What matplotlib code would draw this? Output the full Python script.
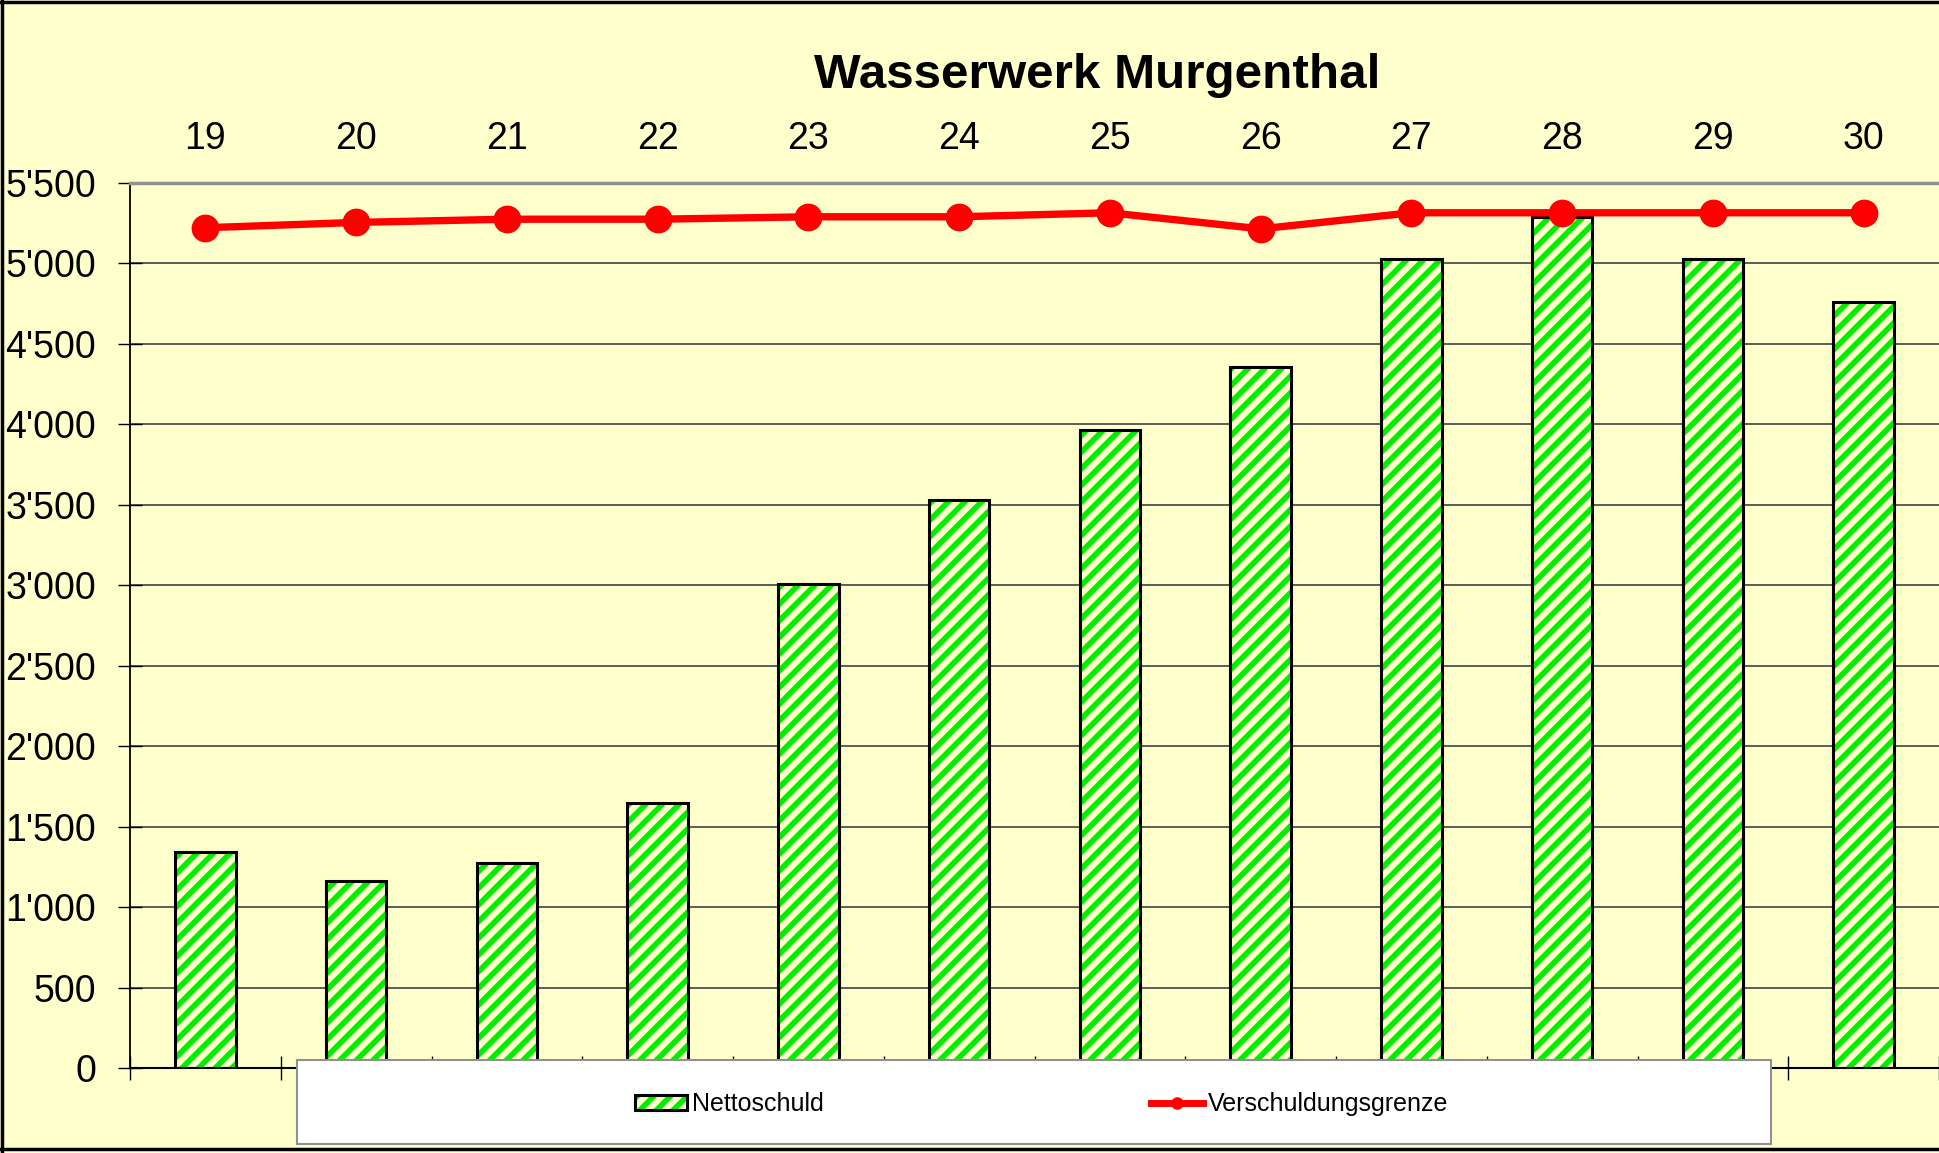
import matplotlib
matplotlib.use("Agg")
import matplotlib.pyplot as plt
from matplotlib.patches import Patch, Rectangle
from matplotlib.lines import Line2D
from matplotlib.legend_handler import HandlerTuple
from matplotlib.ticker import FuncFormatter

plt.rcParams['font.family'] = ['Liberation Sans', 'DejaVu Sans']
plt.rcParams['hatch.linewidth'] = 4.0

# ---- data ----
years = ["19", "20", "21", "22", "23", "24", "25", "26", "27", "28", "29", "30"]
nettoschuld = [1345, 1160, 1275, 1645, 3010, 3530, 3965, 4355, 5030, 5290, 5030, 4760]
verschuldungsgrenze = [5222, 5255, 5275, 5275, 5290, 5290, 5315, 5215, 5315, 5315, 5315, 5315]
yticks = [0, 500, 1000, 1500, 2000, 2500, 3000, 3500, 4000, 4500, 5000, 5500]
title = "Wasserwerk Murgenthal"
label_bar = "Nettoschuld"
label_line = "Verschuldungsgrenze"

BG = '#FFFFCC'
GREEN = '#00EE00'
RED = '#FF0000'

W, H = 1939, 1153
fig = plt.figure(figsize=(W / 100, H / 100), dpi=100, facecolor=BG)

left, right, bottom, top = 130 / W, 1.0, 1 - 1068 / H, 1 - 183 / H
ax = fig.add_axes([left, bottom, right - left, top - bottom])
ax.set_facecolor(BG)

x = list(range(len(years)))
ax.bar(x, nettoschuld, width=0.4, color=BG, edgecolor=GREEN, hatch='//',
       linewidth=0, zorder=2)
ax.bar(x, nettoschuld, width=0.4, fill=False, edgecolor='black',
       linewidth=2.2, zorder=3)
ax.plot(x, verschuldungsgrenze, color=RED, lw=5.3, marker='o', ms=19,
        zorder=4, solid_capstyle='round')

ax.set_xlim(-0.5, len(years) - 0.5)
ax.set_ylim(0, 5500)

ax.set_yticks(yticks)
ax.yaxis.set_major_formatter(FuncFormatter(lambda v, p: f"{int(v):,}".replace(',', "'")))
ax.tick_params(axis='y', direction='inout', length=17, width=1, pad=16,
               labelsize=27, colors='black')

ax.set_xticks(x)
ax.set_xticklabels(years)
ax.xaxis.tick_top()
ax.tick_params(axis='x', which='major', length=0, pad=19, labelsize=27)
ax.set_xticks([i + 0.5 for i in range(-1, len(years))], minor=True)
ax.tick_params(axis='x', which='minor', bottom=True, top=False,
               direction='inout', length=17, width=1, color='black')

ax.yaxis.grid(True, color='#505050', lw=1.3, zorder=1)
ax.set_axisbelow(True)
ax.spines['right'].set_visible(False)
ax.spines['top'].set_color('#909090')
ax.spines['top'].set_linewidth(2.5)
ax.spines['left'].set_linewidth(1.3)
ax.spines['bottom'].set_linewidth(1.5)

fig.text(1097 / W, 1 - 76 / H, title, ha='center', va='center',
         fontsize=35.6, fontweight='bold')

# legend box
bx0, bx1, by0, by1 = 297, 1771, 1060, 1144
rect = Rectangle((bx0 / W, 1 - by1 / H), (bx1 - bx0) / W, (by1 - by0) / H,
                 transform=fig.transFigure, facecolor='white',
                 edgecolor='#909090', lw=1.5, zorder=5)
fig.add_artist(rect)

h_bar = (Patch(facecolor=BG, edgecolor=GREEN, hatch='//', lw=0),
         Patch(facecolor='none', edgecolor='black', lw=2.2))
h_line = Line2D([], [], color=RED, lw=5, marker='o', ms=8)
leg = fig.legend([h_bar, h_line], [label_bar, label_line], loc='center',
                 bbox_to_anchor=((bx0 + bx1 + 15) / 2 / W, 1 - (by0 + by1 + 4) / 2 / H),
                 frameon=False, ncol=2, fontsize=18, columnspacing=13.1,
                 handlelength=2.1, handleheight=0.55, handletextpad=0.18,
                 handler_map={tuple: HandlerTuple(ndivide=1, pad=0)})
leg.set_zorder(6)

# figure border (left, top, bottom)
for xs, ys in [([0.0008, 0.0008], [0, 1]), ([0, 1], [0.9985, 0.9985]),
               ([0, 1], [1 - 1149 / H, 1 - 1149 / H])]:
    fig.add_artist(Line2D(xs, ys, transform=fig.transFigure, color='black',
                          lw=2.5, zorder=10))

fig.savefig('out.png', dpi=100, facecolor=BG)
